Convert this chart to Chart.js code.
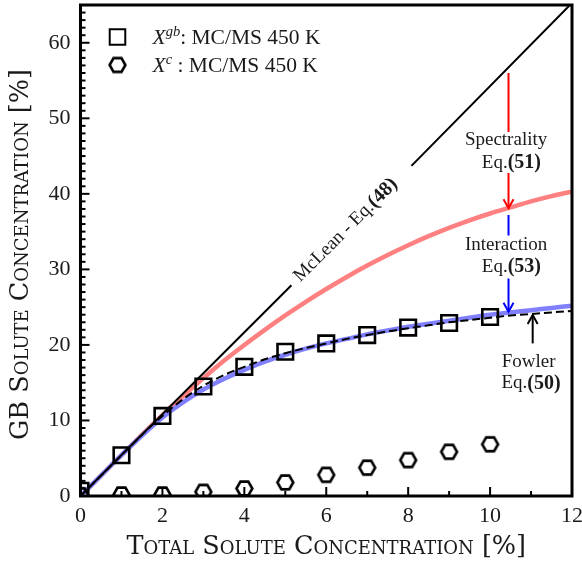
<!DOCTYPE html>
<html><head><meta charset="utf-8">
<script src="https://cdn.jsdelivr.net/npm/chart.js@4/dist/chart.umd.min.js"></script>
<style>html,body{margin:0;padding:0;background:#fff}</style>
</head><body>
<canvas id="c" width="582" height="567"></canvas>
<script>
// ---- data ----
const concX = [0, 1, 2, 3, 4, 5, 6, 7, 8, 9, 10];
const xgbMCMS = [0.7, 5.4, 10.6, 14.5, 17.1, 19.1, 20.2, 21.3, 22.3, 22.9, 23.7];
const xcMCMS = [0.1, 0.2, 0.2, 0.55, 1.0, 1.8, 2.8, 3.75, 4.75, 5.85, 6.85];

const curveX = [0, 0.5, 1, 1.5, 2, 2.5, 3, 3.5, 4, 4.5, 5, 5.5, 6, 6.5, 7, 7.5, 8, 8.5, 9, 9.5, 10, 10.5, 11, 11.5, 12];
const spectrality = [0, 2.7, 5.4, 8.1, 10.7, 13.2, 15.6, 17.9, 20.0, 22.0, 23.9, 25.7, 27.4, 29.0, 30.5, 31.9, 33.2, 34.4, 35.5, 36.5, 37.4, 38.2, 39.0, 39.7, 40.3];
const interaction = [0, 2.7, 5.4, 8.0, 10.4, 12.4, 14.1, 15.5, 16.7, 17.8, 18.7, 19.5, 20.2, 20.8, 21.4, 21.9, 22.4, 22.8, 23.2, 23.6, 24.0, 24.3, 24.6, 24.9, 25.2];
const fowler = [0, 2.7, 5.4, 8.1, 10.6, 12.8, 14.6, 16.0, 17.1, 18.1, 18.9, 19.6, 20.2, 20.8, 21.3, 21.8, 22.2, 22.6, 23.0, 23.3, 23.6, 23.9, 24.1, 24.3, 24.5];

const mcleanX = [0, 5.15, 6.6, 8.08, 11.95];
const mcleanY = [0, 27.9, null, 43.7, 65];

const xTickLabels = [0, 2, 4, 6, 8, 10, 12];
const yTickLabels = [0, 10, 20, 30, 40, 50, 60];

// annotation arrows: [x, yFrom, yTo, gapTop, gapBottom]
const arrowSpectrality = [10.45, 56.0, 38.1, 48.2, 42.75];
const arrowInteraction = [10.45, 37.2, 24.4, 34.5, 28.8];
const arrowFowler = [11.04, 20.2, 23.96];

const SERIF = "'Liberation Serif', 'DejaVu Serif', serif";
const TITLE_SERIF = "'DejaVu Serif', 'Liberation Serif', serif";

// hexagon marker
function hexMarker(R, lw) {
  const s = Math.ceil(2 * R + lw * 2 + 2);
  const c = document.createElement('canvas');
  c.width = s; c.height = s;
  const g = c.getContext('2d');
  g.beginPath();
  for (let i = 0; i < 6; i++) {
    const a = Math.PI / 3 * i;
    g.lineTo(s / 2 + R * Math.cos(a), s / 2 + R * Math.sin(a));
  }
  g.closePath();
  g.lineWidth = lw; g.strokeStyle = '#000'; g.lineJoin = 'miter';
  g.stroke();
  return c;
}
const hexImg = hexMarker(7.9, 2.6);

function pts(xs, ys) { return xs.map((x, i) => ({x: x, y: ys[i]})); }

function drawRuns(ctx, parts, cx, cy, align) {
  let w = 0;
  parts.forEach(p => { ctx.font = p[1]; w += ctx.measureText(p[0]).width; });
  let x = align === 'center' ? cx - w / 2 : cx;
  ctx.textAlign = 'left';
  parts.forEach(p => {
    ctx.font = p[1];
    ctx.fillText(p[0], x, cy + (p[2] || 0));
    x += ctx.measureText(p[0]).width;
  });
}

const decor = {
  id: 'decor',
  afterDatasetsDraw(chart) {
    const {ctx, chartArea: a, scales: {x, y}} = chart;
    ctx.save();
    ctx.strokeStyle = '#000';
    ctx.lineWidth = 2;
    ctx.lineCap = 'butt';
    // inward ticks
    for (let v = 0; v <= 64; v++) {
      const py = y.getPixelForValue(v);
      const len = yTickLabels.includes(v) ? 9 : 5;
      ctx.beginPath(); ctx.moveTo(a.left, py); ctx.lineTo(a.left + len, py); ctx.stroke();
    }
    for (let v = 0; v <= 12; v++) {
      const px = x.getPixelForValue(v);
      const len = xTickLabels.includes(v) ? 9 : 5;
      ctx.beginPath(); ctx.moveTo(px, a.bottom); ctx.lineTo(px, a.bottom - len); ctx.stroke();
    }
    // frame
    ctx.lineWidth = 3;
    ctx.strokeRect(a.left, a.top, a.right - a.left, a.bottom - a.top);

    // arrows
    function arrow(color, xv, y0, y1, g0, g1) {
      const px = x.getPixelForValue(xv);
      ctx.strokeStyle = color; ctx.lineWidth = 2;
      ctx.beginPath();
      if (g0 !== undefined) {
        ctx.moveTo(px, y.getPixelForValue(y0)); ctx.lineTo(px, y.getPixelForValue(g0));
        ctx.moveTo(px, y.getPixelForValue(g1)); ctx.lineTo(px, y.getPixelForValue(y1));
      } else {
        ctx.moveTo(px, y.getPixelForValue(y0)); ctx.lineTo(px, y.getPixelForValue(y1));
      }
      ctx.stroke();
      const tip = y.getPixelForValue(y1);
      const dir = y1 < y0 ? -1 : 1;
      ctx.beginPath();
      ctx.moveTo(px - 5, tip + dir * 9); ctx.lineTo(px, tip); ctx.lineTo(px + 5, tip + dir * 9);
      ctx.stroke();
    }
    arrow('#ff0000', ...arrowSpectrality);
    arrow('#0000ff', ...arrowInteraction);
    arrow('#000000', ...arrowFowler);

    // annotation texts
    ctx.fillStyle = '#1a1a1a';
    ctx.textBaseline = 'middle';
    const fN = '19px ' + SERIF, fB = 'bold 20px ' + SERIF;
    drawRuns(ctx, [['Spectrality', fN]], x.getPixelForValue(10.39), y.getPixelForValue(47.1), 'center');
    drawRuns(ctx, [['Eq.', fN], ['(51)', fB]], x.getPixelForValue(10.52), y.getPixelForValue(44.1), 'center');
    drawRuns(ctx, [['Interaction', fN]], x.getPixelForValue(10.39), y.getPixelForValue(33.2), 'center');
    drawRuns(ctx, [['Eq.', fN], ['(53)', fB]], x.getPixelForValue(10.52), y.getPixelForValue(30.35), 'center');
    drawRuns(ctx, [['Fowler', fN]], x.getPixelForValue(10.94), y.getPixelForValue(17.8), 'center');
    drawRuns(ctx, [['Eq.', fN], ['(50)', fB]], x.getPixelForValue(11.0), y.getPixelForValue(14.9), 'center');

    // McLean label along the line
    ctx.save();
    ctx.translate(x.getPixelForValue(6.475), y.getPixelForValue(35.2));
    ctx.rotate(-Math.PI / 4);
    drawRuns(ctx, [['McLean - Eq.', fN], ['(48)', fB]], 0, 0, 'center');
    ctx.restore();

    // legend
    const lx = a.left + 37, ly1 = a.top + 32, ly2 = a.top + 60;
    ctx.strokeStyle = '#000'; ctx.fillStyle = 'rgba(0,0,0,0)';
    Chart.helpers.drawPoint(ctx, {pointStyle: 'rect', radius: 11, borderWidth: 2.6, rotation: 0}, lx, ly1);
    ctx.drawImage(hexImg, lx - hexImg.width / 2, ly2 - hexImg.height / 2);
    ctx.fillStyle = '#1a1a1a';
    ctx.textBaseline = 'alphabetic';
    const fI = 'italic 21.5px ' + SERIF, fS = 'italic 14.5px ' + SERIF, fL = '21.5px ' + SERIF;
    drawRuns(ctx, [['X', fI], ['gb', fS, -8], [': MC/MS 450 K', fL]], a.left + 72, ly1 + 7, 'left');
    drawRuns(ctx, [['X', fI], ['c', fS, -8], [' : MC/MS 450 K', fL]], a.left + 72, ly2 + 7, 'left');
    ctx.restore();
  }
};

function zeroPad(s) { s.paddingTop = 0; s.paddingBottom = 0; s.paddingLeft = 0; s.paddingRight = 0; }

new Chart(document.getElementById('c').getContext('2d'), {
  type: 'line',
  data: {
    datasets: [
      {label: 'Xgb: MC/MS 450 K', data: pts(concX, xgbMCMS), showLine: false, pointStyle: 'rect', pointRadius: 11,
       pointBorderWidth: 2.6, pointBorderColor: '#000', pointBackgroundColor: 'rgba(0,0,0,0)', borderColor: '#000', clip: 0},
      {label: 'Xc: MC/MS 450 K', data: pts(concX, xcMCMS), showLine: false, pointStyle: hexImg, pointRadius: 9,
       borderColor: '#000', clip: 0},
      {label: 'Fowler Eq.(50)', data: pts(curveX, fowler), borderColor: '#000', borderWidth: 2, borderDash: [8, 4],
       pointRadius: 0, cubicInterpolationMode: 'monotone', clip: 0},
      {label: 'McLean Eq.(48)', data: pts(mcleanX, mcleanY), borderColor: '#000', borderWidth: 2, pointRadius: 0,
       spanGaps: false, clip: 0},
      {label: 'Interaction Eq.(53)', data: pts(curveX, interaction), borderColor: '#8080ff', borderWidth: 4.5,
       pointRadius: 0, cubicInterpolationMode: 'monotone', clip: 0},
      {label: 'Spectrality Eq.(51)', data: pts(curveX, spectrality), borderColor: '#ff8080', borderWidth: 4.5,
       pointRadius: 0, cubicInterpolationMode: 'monotone', clip: 0}
    ]
  },
  options: {
    responsive: false, animation: false, devicePixelRatio: 1,
    layout: {autoPadding: false, padding: {left: 0, right: 10, top: 5, bottom: 0}},
    plugins: {legend: {display: false}, tooltip: {enabled: false}},
    scales: {
      x: {
        type: 'linear', min: 0, max: 12,
        afterBuildTicks: s => { s.ticks = xTickLabels.map(v => ({value: v})); },
        afterFit: s => { s.height = 71; zeroPad(s); },
        grid: {display: false, drawTicks: false}, border: {display: false},
        ticks: {font: {family: SERIF, size: 22}, color: '#1a1a1a', padding: 7, maxRotation: 0, autoSkip: false},
        title: {display: true, text: 'Total Solute Concentration [%]', color: '#1a1a1a',
                font: {family: TITLE_SERIF, size: 25.5, weight: 'small-caps'}, padding: {top: 0, bottom: 4}}
      },
      y: {
        type: 'linear', min: 0, max: 65,
        afterBuildTicks: s => { s.ticks = yTickLabels.map(v => ({value: v})); },
        afterFit: s => { s.width = 80.5; zeroPad(s); },
        grid: {display: false, drawTicks: false}, border: {display: false},
        ticks: {font: {family: SERIF, size: 22}, color: '#1a1a1a', padding: 10, autoSkip: false},
        title: {display: true, text: 'GB Solute Concentration [%] ', color: '#1a1a1a',
                font: {family: TITLE_SERIF, size: 25.5, weight: 'small-caps'}, padding: {top: 6, bottom: 0}}
      }
    }
  },
  plugins: [decor]
});
</script>
</body></html>
